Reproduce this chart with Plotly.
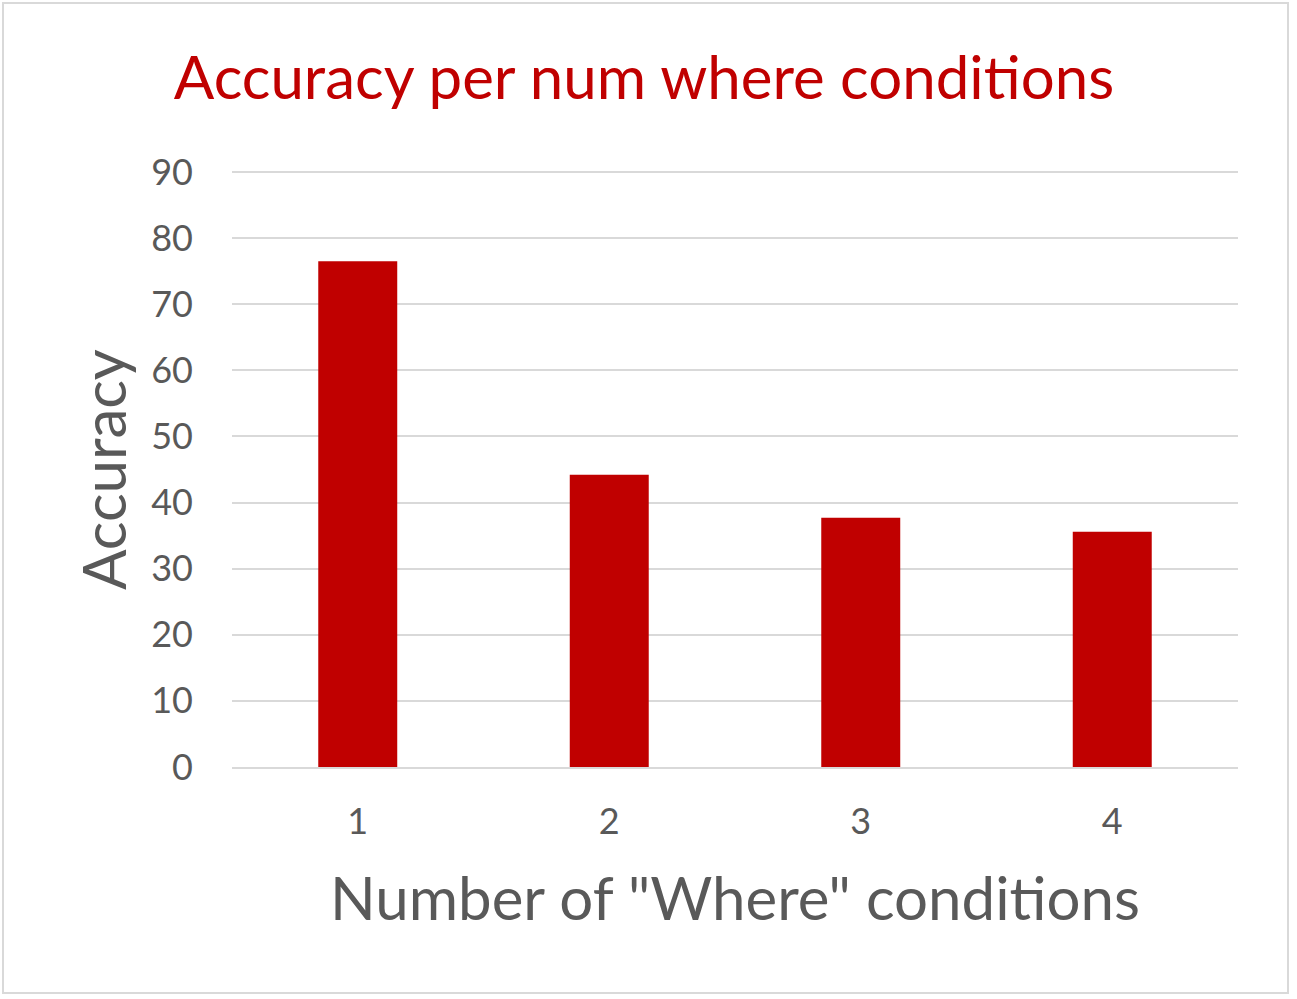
import plotly.graph_objects as go

# data
conditions = ["1", "2", "3", "4"]
accuracy = [76.5, 44.2, 37.7, 35.6]
y_ticks = [0, 10, 20, 30, 40, 50, 60, 70, 80, 90]

red = "#C00000"
grey = "#595959"
font = "Lato"

W, H = 1297, 999
left, right, top, bottom = 232, 1238, 170, 767
pw, ph = right - left, bottom - top


def px_x(x):
    return (x - left) / pw


def px_y(y):
    return (bottom - y) / ph


fig = go.Figure()
fig.add_trace(go.Bar(
    x=conditions,
    y=accuracy,
    marker=dict(color=red, line=dict(width=0)),
))

fig.update_layout(
    width=W,
    height=H,
    paper_bgcolor="white",
    plot_bgcolor="white",
    showlegend=False,
    bargap=0.686,
    margin=dict(l=left, r=W - right, t=top, b=H - bottom),
    title=dict(
        text="Accuracy per num where conditions",
        font=dict(family=font, size=60, color=red),
        x=644 / W, xanchor="center",
        y=1 - 78 / H, yanchor="middle",
    ),
    font=dict(family=font, color=grey),
)

fig.update_yaxes(
    range=[0, 90.3],
    tickvals=y_ticks,
    showgrid=True,
    gridcolor="#D9D9D9",
    gridwidth=2,
    zeroline=False,
    showline=False,
    tickfont=dict(family=font, size=36, color=grey),
    ticklabelstandoff=38,
)
fig.update_xaxes(
    showline=True,
    linecolor="#D9D9D9",
    linewidth=2,
    tickfont=dict(family=font, size=36, color=grey),
    ticklabelstandoff=22,
)

# axis titles placed as annotations
fig.add_annotation(
    text="Accuracy", xref="paper", yref="paper",
    x=px_x(103), y=px_y(470), showarrow=False, textangle=-90,
    font=dict(family=font, size=60, color=grey),
    xanchor="center", yanchor="middle",
)
fig.add_annotation(
    text='Number of "Where" conditions', xref="paper", yref="paper",
    x=px_x(735), y=px_y(897), showarrow=False,
    font=dict(family=font, size=60, color=grey),
    xanchor="center", yanchor="middle",
)

# light frame around the whole chart
fig.add_shape(
    type="rect", xref="paper", yref="paper",
    x0=px_x(3), x1=px_x(1288),
    y0=px_y(993), y1=px_y(3),
    line=dict(color="#D9D9D9", width=2),
)

fig.write_html(
    "out.html",
    config={"displayModeBar": False},
    post_script="document.body.style.margin='0';document.body.style.overflow='hidden';",
)
